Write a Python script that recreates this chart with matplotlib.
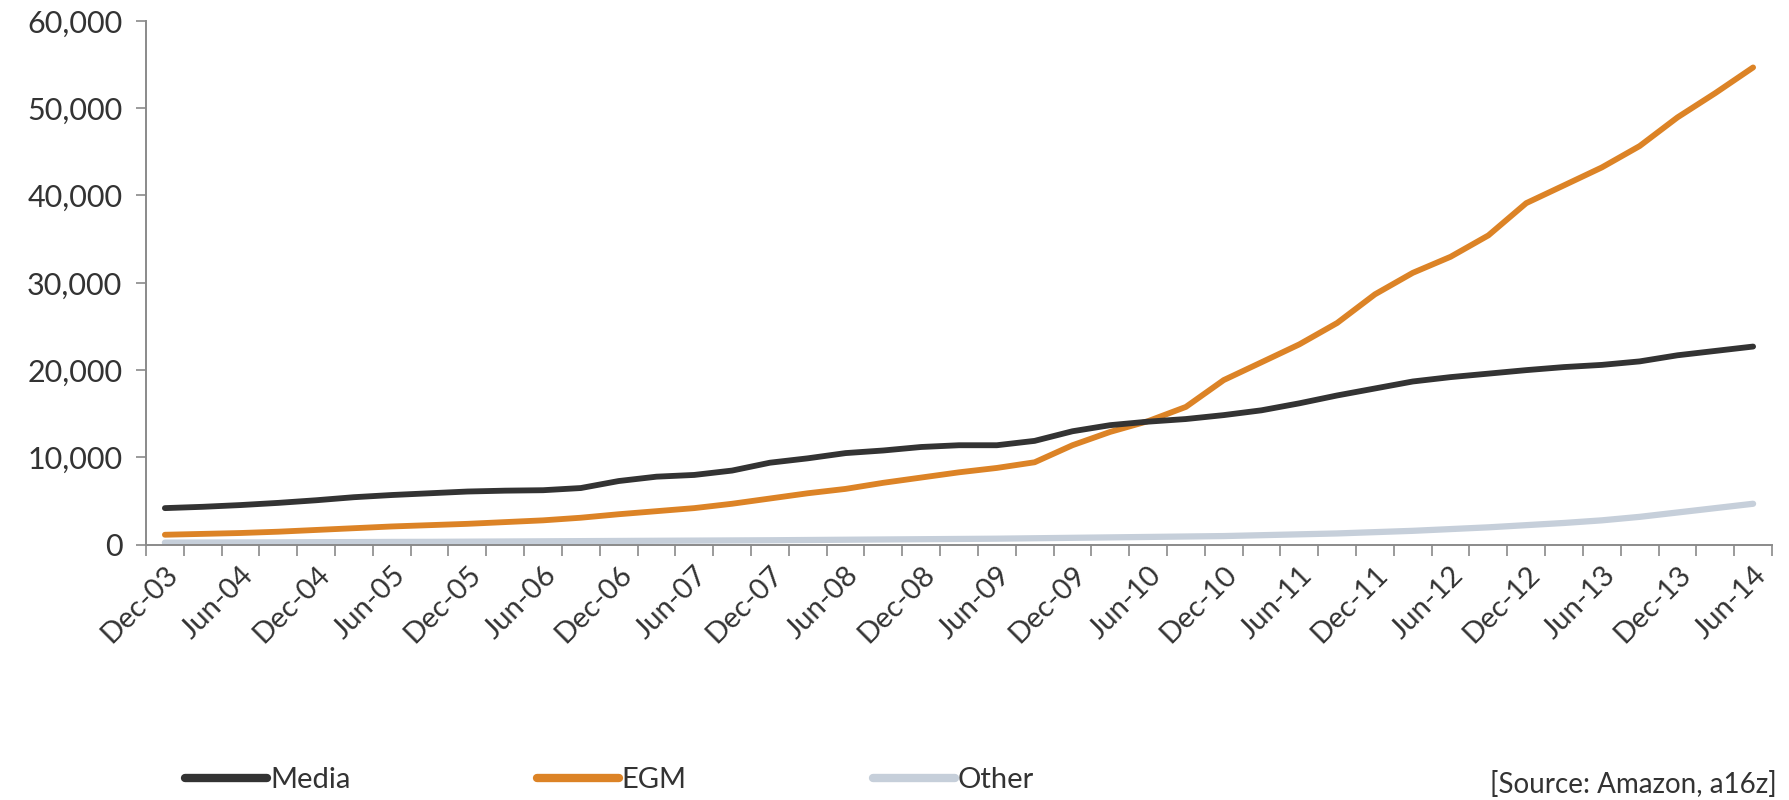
import matplotlib.pyplot as plt
import numpy as np
from matplotlib.ticker import FuncFormatter, MultipleLocator

# Quarterly values, Dec-03 .. Jun-14 (43 quarters)
media = [4200, 4350, 4550, 4800, 5100, 5450, 5700, 5900, 6100, 6200,
         6250, 6500, 7300, 7800, 8000, 8500, 9400, 9900, 10500, 10800,
         11200, 11400, 11400, 11900, 13000, 13700, 14100, 14400, 14850, 15400,
         16200, 17100, 17900, 18700, 19200, 19600, 20000, 20350, 20600, 21000,
         21700, 22200, 22700]
egm = [1150, 1250, 1350, 1500, 1700, 1900, 2100, 2250, 2400, 2600,
       2800, 3100, 3500, 3850, 4200, 4700, 5300, 5900, 6400, 7100,
       7700, 8300, 8800, 9450, 11400, 12930, 14160, 15790, 18860, 20900,
       22950, 25400, 28680, 31140, 32980, 35430, 39120, 41160, 43210, 45660,
       48940, 51720, 54660]
other = [250, 260, 270, 280, 300, 310, 330, 340, 360, 380,
         400, 420, 440, 460, 480, 500, 520, 550, 580, 610,
         640, 670, 700, 750, 800, 850, 900, 950, 1000, 1100,
         1200, 1300, 1450, 1600, 1800, 2000, 2250, 2500, 2800, 3200,
         3700, 4200, 4700]

tick_labels = ['Dec-03', 'Jun-04', 'Dec-04', 'Jun-05', 'Dec-05', 'Jun-06',
               'Dec-06', 'Jun-07', 'Dec-07', 'Jun-08', 'Dec-08', 'Jun-09',
               'Dec-09', 'Jun-10', 'Dec-10', 'Jun-11', 'Dec-11', 'Jun-12',
               'Dec-12', 'Jun-13', 'Dec-13', 'Jun-14']

c_media = '#333333'
c_egm = '#DC8326'
c_other = '#C6CFDA'
axis_col = '#8a8a8a'
text_col = '#333333'
font = ['Lato', 'DejaVu Sans']

fig = plt.figure(figsize=(17.89, 8.0), dpi=100)
ax = fig.add_axes([0.0816, 0.319, 0.9089, 0.655])

x = np.arange(len(media))
ax.plot(x, other, color=c_other, lw=4.5, solid_capstyle='round', label='Other')
ax.plot(x, egm, color=c_egm, lw=4.2, solid_capstyle='round', label='EGM')
ax.plot(x, media, color=c_media, lw=4.2, solid_capstyle='round', label='Media')

ax.set_xlim(-0.5, len(media) - 0.5)
ax.set_ylim(0, 60000)

# y axis
ax.yaxis.set_major_locator(MultipleLocator(10000))
ax.yaxis.set_major_formatter(FuncFormatter(lambda v, p: f'{int(v):,}'))
ax.tick_params(axis='y', length=7, width=1.2, color=axis_col, pad=10,
               labelsize=22, labelcolor=text_col)

# x axis: ticks between quarters, labels every half year
ax.set_xticks(np.arange(-0.5, len(media), 1.0))
ax.set_xticklabels([])
ax.set_xticks(np.arange(0, len(media), 2), minor=True)
ax.set_xticklabels(tick_labels, minor=True, rotation=45, ha='right',
                   rotation_mode='anchor', fontsize=21, color=text_col,
                   family=font)
ax.tick_params(axis='x', which='major', length=8, width=1.2, color=axis_col)
ax.tick_params(axis='x', which='minor', length=0, pad=12)

for lbl in ax.get_yticklabels():
    lbl.set_family(font)

for s in ['top', 'right']:
    ax.spines[s].set_visible(False)
for s in ['left', 'bottom']:
    ax.spines[s].set_color(axis_col)
    ax.spines[s].set_linewidth(1.4)

# legend at bottom
handles, labels = ax.get_legend_handles_labels()
order = [2, 1, 0]
leg = fig.legend([handles[i] for i in order], [labels[i] for i in order],
                 loc='lower left', bbox_to_anchor=(0.089, -0.024), ncol=3,
                 frameon=False, handlelength=2.8, handletextpad=0.1,
                 columnspacing=6.4, prop={'family': font, 'size': 21})
for line in leg.get_lines():
    line.set_linewidth(6)
for t in leg.get_texts():
    t.set_color(text_col)

fig.text(0.993, 0.003, '[Source: Amazon, a16z]', ha='right', va='bottom',
         fontsize=20, color=text_col, family=font)

fig.savefig('out.png', dpi=100)
